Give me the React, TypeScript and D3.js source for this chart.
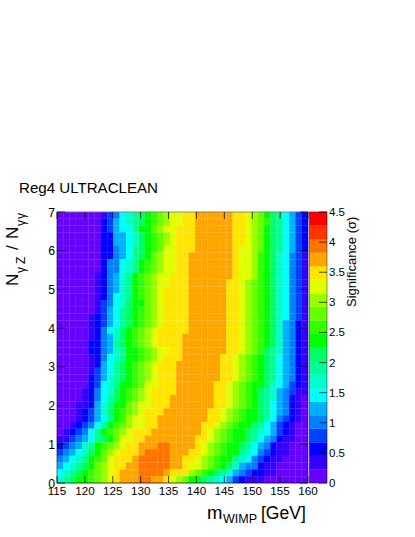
import React from "react";
import * as d3 from "d3";

// Each row is one histogram row from top (y≈7) to bottom (y≈0); each char is a base-36 colour-level index per mass bin.
const significanceLevels: string[] = [
  "00000001346789abcdee ffggggggffedca986532",
  "00000002356789abcdee ffggggggffedcb986532",
  "0000000235668aacdeef ffggggggffedca986532",
  "00000002255679abcdef ffggggggffedca986532",
  "00000002255679abcdef ffggggggffedca986532",
  "00000002245689abceef ffggggggfeedca986532",
  "00000002245689acdeef fgggggggfeedba976431",
  "0000000244678abcdeef fgggggggfeedba976431",
  "0000000244678abcdeef fgggggggfeedba976431",
  "000000124578abcdeeff fgggggggfeedba976431",
  "000000124578abcdeeff fggggggffedcba976431",
  "000000124578abcdefff fggggggffedcba976431",
  "000000124678abcdefff fggggggffedcba976431",
  "000000134679aacdefff fggggggffedcba976431",
  "000000135689abcdefff fggggggffedcba976431",
  "000001235689abcdefff fggggggffedcba976431",
  "000001235689abcdefff fggggggffedcba975421",
  "00000124679abcdeffff fggggggffedcba975421",
  "00000124579abcdeffff gggggggffedcba975421",
  "00000224589abcdeffff gggggggffedcba975421",
  "00000224578aabcdeeff gggggggffedcb9875421",
  "00000124678aabcdefff ggggggffedcba9865421",
  "00000125689abcdefffg ggggggffedcba9865421",
  "00000135689abcdefffg ggggggffedcba9865421",
  "00000235789abcdefffg ggggggffedcba9865421",
  "0000023678aabceefffg gggggffedcbaa9765321",
  "0000124679abcdeffffg gggggffedcba98754311",
  "0000124689abcdefffgg gggggffedcba98754210",
  "000112578aacdeefffgg gggggffedcba98654210",
  "000123579abcdefffggg ggggffedcbaa98654210",
  "000123568abdeeffgggg ggggffedcbaa98643210",
  "00123468abcdeeffgggg gggffedcbaa986532100",
  "0123468abcdefffggggg gggfedcbaa9876532100",
  "11345689aceeffgggggg ggffedcbaa9865421100",
  "234578abcdeffggghhgg ggfedcbaa98654211000",
  "345679acdefffghhhhgg gffedcbaa87643211000",
  "45678abcefffghhhhhgg ffedcbaa876432110000",
  "56789acdeffgghhhhhgg feedcba9754421100000",
  "6789abcdefggghhhhgff fdcba987543221100000",
  "789aabcdefggghhggfed caa98765321110000000",
];
const paletteColors = [
  "#6600ff", "#3300ff", "#0000ff", "#0040ff", "#0080ff",
  "#00b0ff", "#00ffff", "#00ffcc", "#00ff99", "#00ff66",
  "#00ff00", "#33ff00", "#66ff00", "#99ff00", "#e0ff00",
  "#ffe600", "#ffa500", "#ff7300", "#ff3300", "#ff0000",
];
const xTicks = [115, 120, 125, 130, 135, 140, 145, 150, 155, 160];
const yTicks = [0, 1, 2, 3, 4, 5, 6, 7];
const zTicks = [0, 0.5, 1, 1.5, 2, 2.5, 3, 3.5, 4, 4.5];
const zTickLabels = ["0", "0.5", "1", "1.5", "2", "2.5", "3", "3.5", "4", "4.5"];

const FONT = "'Liberation Sans', Arial, sans-serif";
const zMax = 4.5;
const step = zMax / paletteColors.length;
const rows = significanceLevels.map((r) =>
  r.replace(" ", "").split("").map((c) => (parseInt(c, 36) + 0.5) * step),
);

export default function App() {
  const L = 57, R = 308, T = 212, B = 483;
  const x = d3.scaleLinear().domain([115, 160]).range([L, R]);
  const y = d3.scaleLinear().domain([0, 7]).range([B, T]);
  const color = d3.scaleQuantize<string>().domain([0, zMax]).range(paletteColors);
  const barL = 309.5, barR = 327;
  const z = d3.scaleLinear().domain([0, zMax]).range([B, T]);
  const nx = rows[0].length, ny = rows.length;
  const dx = (160 - 115) / nx, dy = 7 / ny;
  return (
    <svg width={415} height={537} style={{ position: "absolute", left: 0, top: 0, background: "#fff" }} fontFamily={FONT}>
      <text x={19} y={193} fontSize={15.1}>Reg4 ULTRACLEAN</text>
      <g>
        {rows.map((row, j) =>
          row.map((v, i) => {
            const x0 = x(115 + i * dx), x1 = x(115 + (i + 1) * dx);
            const y1 = y(7 - j * dy), y0 = y(7 - (j + 1) * dy);
            return <rect key={`${j}-${i}`} x={x0} y={y1} width={x1 - x0} height={y0 - y1} fill={color(v)} stroke={color(v)} strokeWidth={0.2} />;
          }),
        )}
      </g>
      <line x1={L} x2={R} y1={T} y2={T} stroke="#777" strokeWidth={0.8} />
      <line x1={L} x2={R} y1={B} y2={B} stroke="#000" strokeWidth={0.7} />
      <line x1={L} x2={L} y1={T} y2={B} stroke="#000" strokeWidth={0.5} />
      <line x1={R} x2={R} y1={T} y2={B} stroke="#000" strokeWidth={0.5} />
      {xTicks.map((t) => (
        <g key={t}>
          <line x1={x(t)} x2={x(t)} y1={B} y2={B - 7} stroke="#000" strokeWidth={0.7} />
          <line x1={x(t)} x2={x(t)} y1={T} y2={T + 7} stroke="#000" strokeWidth={0.7} />
          <text x={x(t)} y={494.5} fontSize={11.7} textAnchor="middle">{t}</text>
        </g>
      ))}
      {yTicks.map((t) => (
        <g key={t}>
          <line x1={L} x2={L + 8} y1={y(t)} y2={y(t)} stroke="#000" strokeWidth={0.7} />
          <line x1={R} x2={R - 8} y1={y(t)} y2={y(t)} stroke="#000" strokeWidth={0.7} />
          <text x={55} y={y(t) + 4.5} fontSize={12.2} textAnchor="end">{t}</text>
        </g>
      ))}
      {paletteColors.map((c, i) => (
        <rect key={c} x={barL} y={z((i + 1) * step)} width={barR - barL} height={z(i * step) - z((i + 1) * step)} fill={c} stroke={c} strokeWidth={0.2} />
      ))}
      <rect x={barL} y={T} width={barR - barL} height={B - T} fill="none" stroke="#000" strokeWidth={0.4} />
      {zTicks.map((t, i) => (
        <g key={t}>
          <line x1={barR} x2={barR - 8} y1={z(t)} y2={z(t)} stroke="#000" strokeWidth={0.7} />
          <text x={329} y={z(t) + 4} fontSize={11.5}>{zTickLabels[i]}</text>
        </g>
      ))}
      <text y={519} fontSize={17.5}>
        <tspan x={207} fontSize={18.5}>m</tspan>
        <tspan x={223} y={523} fontSize={12.5}>WIMP</tspan>
        <tspan x={261} y={519}>[GeV]</tspan>
      </text>
      <text transform="translate(17.5,286) rotate(-90)" fontSize={17}>
        <tspan x={0} y={0}>N</tspan>
        <tspan x={13} y={7.5} fontSize={12}>γ</tspan>
        <tspan x={22} y={7.5} fontSize={12}>Z</tspan>
        <tspan x={36} y={0}>/</tspan>
        <tspan x={47} y={0}>N</tspan>
        <tspan x={60} y={7.5} fontSize={12}>γ</tspan>
        <tspan x={67} y={7.5} fontSize={12}>γ</tspan>
      </text>
      <text transform="translate(356,307) rotate(-90)" fontSize={13}>Significance (σ)</text>
    </svg>
  );
}
